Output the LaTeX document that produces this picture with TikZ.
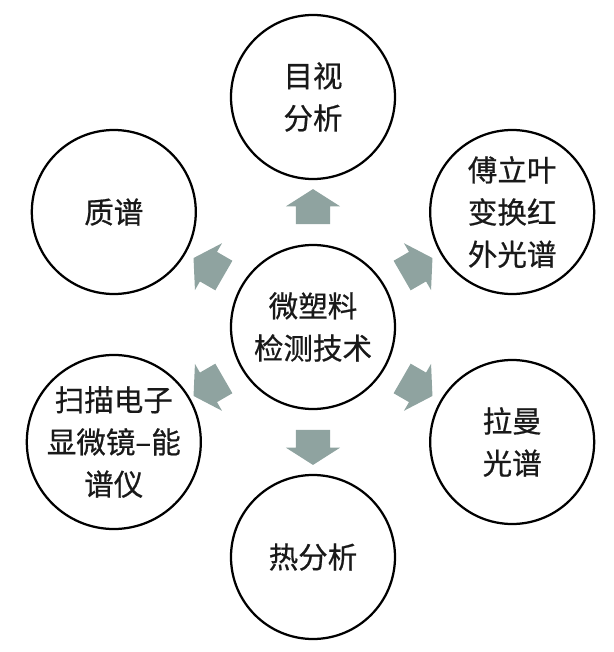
\documentclass[tikz,border=0pt]{standalone}
\usepackage{fontspec}
\setmainfont{Noto Sans CJK SC}[FakeBold=0.6]
\usetikzlibrary{calc}
\usetikzlibrary{shapes.arrows}

\definecolor{arrowgray}{RGB}{143,163,160}

\begin{document}
\begin{tikzpicture}[thick,
  tech/.style={circle, draw, line width=1.6pt, minimum size=4.1cm, inner sep=0pt,
    align=center, text=black!90, font=\fontsize{21}{30}\selectfont},
  flow/.style={single arrow, fill=arrowgray, draw=none, inner xsep=0pt, inner ysep=0.4125cm,
    single arrow head extend=0.25cm, single arrow tip angle=115, minimum height=0.875cm}]
  \useasboundingbox (-7.825,-8.125) rectangle (7.525,8.175);

  \node[tech] (C) at (0,0) {微塑料\\检测技术};
  \node[tech] (V) at (90:5.75) {目视\\分析};
  \node[tech] (F) at (30:5.75) {傅立叶\\变换红\\外光谱};
  \node[tech] (R) at (-30:5.75) {拉曼\\光谱};
  \node[tech] (T) at (-90:5.75) {热分析};
  \node[tech] (S) at (210:5.75) {扫描电子\\显微镜–能\\谱仪};
  \node[tech] (M) at (150:5.75) {质谱};

  \node[flow, rotate=90] (aV) at ($(C)!0.5!(V)$) {};
  \node[flow, rotate=30] (aF) at ($(C)!0.5!(F)$) {};
  \node[flow, rotate=-30] (aR) at ($(C)!0.5!(R)$) {};
  \node[flow, rotate=-90] (aT) at ($(C)!0.5!(T)$) {};
  \node[flow, rotate=210] (aS) at ($(C)!0.5!(S)$) {};
  \node[flow, rotate=150] (aM) at ($(C)!0.5!(M)$) {};
\end{tikzpicture}
\end{document}
